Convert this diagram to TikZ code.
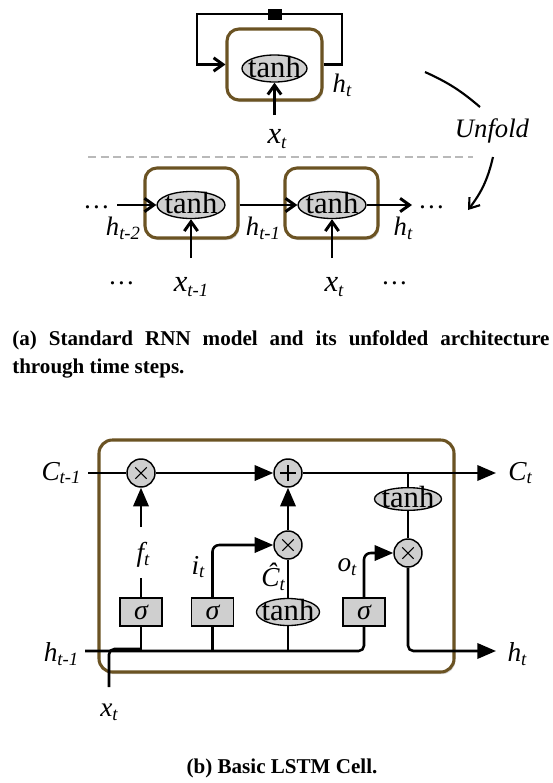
\documentclass[tikz,border=0pt]{standalone}
\usepackage{fontspec}
\setmainfont{Liberation Serif}
\usetikzlibrary{arrows.meta,shadows,shapes.geometric}
\definecolor{cellbrown}{HTML}{6B5323}
\definecolor{opgray}{HTML}{CFCFCF}
\newcommand{\sbA}[1]{\raisebox{-0.3ex}{\fontsize{14pt}{15pt}\selectfont\itshape #1}}
\newcommand{\sbB}[1]{\raisebox{-0.3ex}{\fontsize{14pt}{15pt}\selectfont\itshape #1}}
\begin{document}
\begin{tikzpicture}[x=0.75pt,y=-0.75pt,
  rnn/.style={line width=2.2pt},
  rarr/.style={rnn,-{Straight Barb[length=7pt,width=10pt]}},
  lstm/.style={line width=1.9pt},
  larr/.style={lstm,-{Triangle[length=14pt,width=11.5pt]}},
  cellbox/.style={draw=cellbrown,line width=2.3pt,fill=white,rounded corners=9pt,
     drop shadow={shadow xshift=1pt,shadow yshift=-1.6pt,opacity=0.35}},
  tanhell/.style={ellipse,draw=black,line width=1pt,fill=opgray,inner sep=0pt},
  tanhtxt/.style={font=\fontsize{23pt}{24pt}\selectfont,inner sep=0pt},
  rlab/.style={font=\fontsize{20pt}{22pt}\selectfont\itshape,inner sep=0pt},
  xlab/.style={font=\fontsize{23pt}{24pt}\selectfont\itshape,inner sep=0pt},
  llab/.style={font=\fontsize{20.5pt}{22pt}\selectfont\itshape,inner sep=0pt},
  opc/.style={circle,draw=black,line width=1.1pt,fill=opgray,minimum size=21pt,inner sep=0pt},
  timesop/.style={opc,path picture={\draw[line width=0.8pt] ([shift={(-4.3pt,-4.3pt)}]path picture bounding box.center) -- ([shift={(4.3pt,4.3pt)}]path picture bounding box.center);
     \draw[line width=0.8pt] ([shift={(-4.3pt,4.3pt)}]path picture bounding box.center) -- ([shift={(4.3pt,-4.3pt)}]path picture bounding box.center);}},
  plusop/.style={opc,path picture={\draw[line width=0.8pt] ([shift={(-6pt,0pt)}]path picture bounding box.center) -- ([shift={(6pt,0pt)}]path picture bounding box.center);
     \draw[line width=0.8pt] ([shift={(0pt,-6pt)}]path picture bounding box.center) -- ([shift={(0pt,6pt)}]path picture bounding box.center);}},
  sig/.style={rectangle,draw=black,line width=0.8pt,fill=opgray,minimum width=31.5pt,minimum height=21pt,
     inner sep=0pt,font=\fontsize{21pt}{21pt}\selectfont\itshape},
]
\useasboundingbox (0,0) rectangle (553,783);

% ---------- (a) folded RNN ----------
\node[cellbox,minimum width=71.25pt,minimum height=53.25pt] (rb) at (274.5,64.5) {};
\node[tanhell,minimum width=48.75pt,minimum height=20.25pt] (re) at (274.5,68.5) {};
\node[tanhtxt] (ret) at (274.5,67) {tanh};
\coordinate (lt) at (197,14);
\coordinate (rt) at (342,14);
\draw[rarr] (rb.east) -| (rt) -- (lt) |- (rb.west);
\node[fill=black,minimum width=10.5pt,minimum height=8.25pt,inner sep=0pt] (sq) at (274.5,14.5) {};
\coordinate (xin) at (274.5,115);
\draw[rarr] (xin) -- (re.south);
\node[rlab] (htop) at (342,85) {h\sbA{t}};
\node[xlab] (xtop) at (277,139) {x\sbA{t}};

% separator and unfold
\coordinate (dl) at (88,157);
\coordinate (dr) at (473,157);
\draw[gray!55,line width=0.8pt,dash pattern=on 6pt off 3.5pt] (dl) -- (dr);
\coordinate (u1) at (425,72);
\coordinate (u2) at (480,107);
\coordinate (u3) at (493,157);
\coordinate (u4) at (468,210);
\draw[line width=1.6pt] (u1) to[bend left=8] (u2);
\draw[line width=1.6pt,-{Straight Barb[length=7pt,width=10pt]}] (u3) to[bend left=12] (u4);
\node[font=\fontsize{20pt}{22pt}\selectfont\itshape,inner sep=0pt] (unf) at (492,131) {Unfold};

% ---------- (a) unfolded RNN ----------
\node[cellbox,minimum width=69.75pt,minimum height=52.5pt] (b1) at (191.5,203) {};
\node[cellbox,minimum width=69.75pt,minimum height=52.5pt] (b2) at (331.5,203) {};
\node[tanhell,minimum width=51pt,minimum height=20.25pt] (e1) at (191,205) {};
\node[tanhell,minimum width=51pt,minimum height=20.25pt] (e2) at (332,205) {};
\node[tanhtxt] (e1t) at (191,203.5) {tanh};
\node[tanhtxt] (e2t) at (332,203.5) {tanh};
\coordinate (hl) at (117,205);
\coordinate (hr) at (412,205);
\draw[rarr] (hl) -- (e1.west);
\draw[rarr] (b1.east |- e2.west) -- (e2.west);
\draw[rarr] (e2.east) -- (hr);
\coordinate (x1) at (191,258);
\coordinate (x2) at (332,258);
\draw[rarr] (x1) -- (e1.south);
\draw[rarr] (x2) -- (e2.south);
\node[rlab] (dotsl) at (97,207) {…};
\node[rlab] (dotsr) at (432,207) {…};
\node[rlab] (h2) at (123,228) {h\sbA{t-2}};
\node[rlab] (h1) at (263,228) {h\sbA{t-1}};
\node[rlab] (h0) at (403,228) {h\sbA{t}};
\node[rlab] (dotsbl) at (122,283) {…};
\node[xlab] (xt1) at (191,287) {x\sbA{t-1}};
\node[xlab] (xt0) at (334,287) {x\sbA{t}};
\node[rlab] (dotsbr) at (395,283) {…};

\node[anchor=north west,text width=403pt,align=justify,inner sep=0pt,
  font=\bfseries\fontsize{15.8pt}{21pt}\selectfont] (capa) at (12,330)
  {(a) Standard RNN model and its unfolded architecture through time steps.};

% ---------- (b) LSTM ----------
\node[cellbox,rounded corners=10pt,minimum width=266.25pt,minimum height=174pt] (lb) at (276.5,556) {};
\node[timesop] (m1) at (141,473) {};
\node[plusop] (add) at (288,473) {};
\node[timesop] (m2) at (288,545) {};
\node[timesop] (m3) at (408,553) {};
\node[tanhell,minimum width=50.25pt,minimum height=17pt] (t1) at (408,499) {};
\node[tanhtxt] (t1t) at (408,497.5) {tanh};
\node[tanhell,minimum width=47.25pt,minimum height=20.25pt] (t2) at (288,612) {};
\node[tanhtxt] (t2t) at (288,610.5) {tanh};
\node[sig] (s1) at (141,612) {σ};
\node[sig] (s2) at (212.5,612) {σ};
\node[sig] (s3) at (364,612) {σ};

\coordinate (cin) at (88,473);
\coordinate (cout) at (496,473);
\coordinate (ctap) at (408,473);
\draw[lstm] (cin) -- (m1.west);
\draw[larr] (m1.east) -- (add.west);
\draw[larr] (add.east) -- (cout);
\draw[lstm] (ctap) -- (t1.north);
\draw[lstm] (t1.south) -- (m3.north);

\coordinate (fb) at (141,527);
\coordinate (ft) at (141,578);
\draw[larr] (fb) -- (m1.south);
\draw[lstm] (s1.north) -- (ft);
\draw[larr,rounded corners=5pt] (s2.north) |- (m2.west);
\draw[lstm] (t2.north) -- (m2.south);
\draw[larr] (m2.north) -- (add.south);
\draw[larr,rounded corners=5pt] (s3.north) |- (m3.west);

\coordinate (hin) at (85,651);
\coordinate (hout) at (496,651);
\coordinate (xb) at (109,687);
\coordinate (xj) at (141,649);
\draw[lstm,rounded corners=4pt] (hin) -| (s3.south);
\draw[lstm] (s1.south) -- (s1.south |- hin);
\draw[lstm] (s2.south) -- (s2.south |- hin);
\draw[lstm] (t2.south) -- (t2.south |- hin);
\draw[lstm,rounded corners=4pt] (xb) |- (xj);
\draw[larr,rounded corners=4pt] (m3.south) |- (hout);

\node[llab] (cl) at (61,473) {C\sbB{t-1}};
\node[llab] (cr) at (520,473) {C\sbB{t}};
\node[llab] (hlab) at (61,654) {h\sbB{t-1}};
\node[llab] (hrlab) at (517,654) {h\sbB{t}};
\node[llab] (xlab) at (109,712) {x\sbB{t}};
\node[llab] (flab) at (143,555) {f\sbB{t}};
\node[llab] (ilab) at (198,567) {i\sbB{t}};
\node[llab] (olab) at (347,567) {o\sbB{t}};
\node[llab] (chat) at (273,577) {Ĉ\sbB{t}};

\node[anchor=base,inner sep=0pt,font=\bfseries\fontsize{15.8pt}{18pt}\selectfont] (capb) at (282,773) {(b) Basic LSTM Cell.};
\end{tikzpicture}
\end{document}
